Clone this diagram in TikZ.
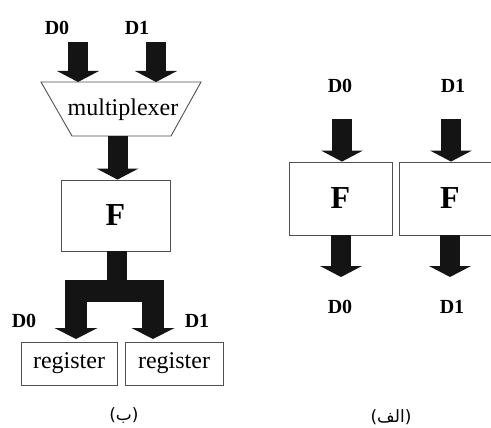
\documentclass[tikz,border=0pt]{standalone}
\usepackage{fontspec}
\setmainfont{Liberation Serif}
\newfontfamily\arabicfont[Script=Arabic]{DejaVu Sans}
\TeXXeTstate=1
\usetikzlibrary{arrows.meta}
\definecolor{arrowc}{HTML}{141414}
\definecolor{boxc}{HTML}{505050}
\tikzset{
  fat/.style={draw=arrowc, line width=20pt, line cap=butt,
    -{Triangle[width=42pt,length=11pt,line width=0pt]}},
  forkline/.style={draw=arrowc, line width=22pt, line join=miter, line cap=butt},
  forkarrow/.style={forkline, -{Triangle[width=43pt,length=11pt,line width=0pt]}},
  boxnode/.style={draw=boxc, line width=0.9pt, inner sep=0pt},
  lbl/.style={font=\fontsize{20}{20}\selectfont\bfseries, inner sep=0pt},
  ftext/.style={font=\fontsize{32}{32}\selectfont\bfseries},
  plaintext/.style={font=\fontsize{24}{24}\selectfont, inner sep=0pt},
  figcap/.style={font=\fontsize{17}{17}\selectfont\arabicfont, inner sep=0pt},
}
\begin{document}
\begin{tikzpicture}[x=1pt,y=-1pt]
\useasboundingbox (0,0) rectangle (491,428);
% ---------- left diagram (b) ----------
\node[lbl] (ld0) at (57,28) {D0};
\node[lbl] (ld1) at (137,28) {D1};
\coordinate (in0) at (78,42);
\coordinate (in1) at (156,42);
\coordinate (mt0) at (78,82);
\coordinate (mt1) at (156,82);
\draw[draw=boxc, line width=0.9pt] (41,82) -- (201,82) -- (171,136) -- (72,136) -- cycle;
\node[plaintext] (mux) at (123,110) {multiplexer};
\draw[fat] (in0) -- (mt0);
\draw[fat] (in1) -- (mt1);
\node[boxnode, minimum width=109pt, minimum height=71pt, ftext] (F) at (115.5,215.5) {F};
\coordinate (mb) at (117.5,136);
\draw[fat] (mb) -- (mb |- F.north);
\coordinate (fk) at (117,290.5);
\coordinate (t0) at (76,339);
\coordinate (t1) at (153,339);
\draw[draw=arrowc, line width=20pt] (fk |- F.south) -- (fk);
\draw[forkarrow] (fk) -| (t0);
\draw[forkarrow] (fk) -| (t1);
\node[lbl] (bd0) at (24,321) {D0};
\node[lbl] (bd1) at (197,321) {D1};
\node[boxnode, minimum width=96pt, minimum height=43pt, plaintext] (r0) at (69,363.5) {register};
\node[boxnode, minimum width=98pt, minimum height=43pt, plaintext] (r1) at (174,363.5) {register};
\node[figcap] (capb) at (124,416) {\beginR(ب)\endR};
% ---------- right diagram (alef) ----------
\node[lbl] (rd0) at (340,86) {D0};
\node[lbl] (rd1) at (453,86) {D1};
\node[boxnode, minimum width=103pt, minimum height=73pt, ftext] (FL) at (340.5,198.5) {F};
\draw[draw=boxc, line width=0.9pt] (491,162) -- (399,162) -- (399,235) -- (491,235);
\node[ftext, inner sep=0pt] (FR) at (450,198.5) {F};
\coordinate (ri0) at (342,119);
\coordinate (ri1) at (451,119);
\draw[fat] (ri0) -- (ri0 |- FL.north);
\draw[fat] (ri1) -- (ri1 |- FL.north);
\coordinate (ro0) at (341,277);
\coordinate (ro1) at (450,277);
\draw[fat] (ro0 |- FL.south) -- (ro0);
\draw[fat] (ro1 |- FL.south) -- (ro1);
\node[lbl] (od0) at (340,307) {D0};
\node[lbl] (od1) at (452,307) {D1};
\node[figcap] (capa) at (391,417) {\beginR(الف)\endR};
\end{tikzpicture}
\end{document}
